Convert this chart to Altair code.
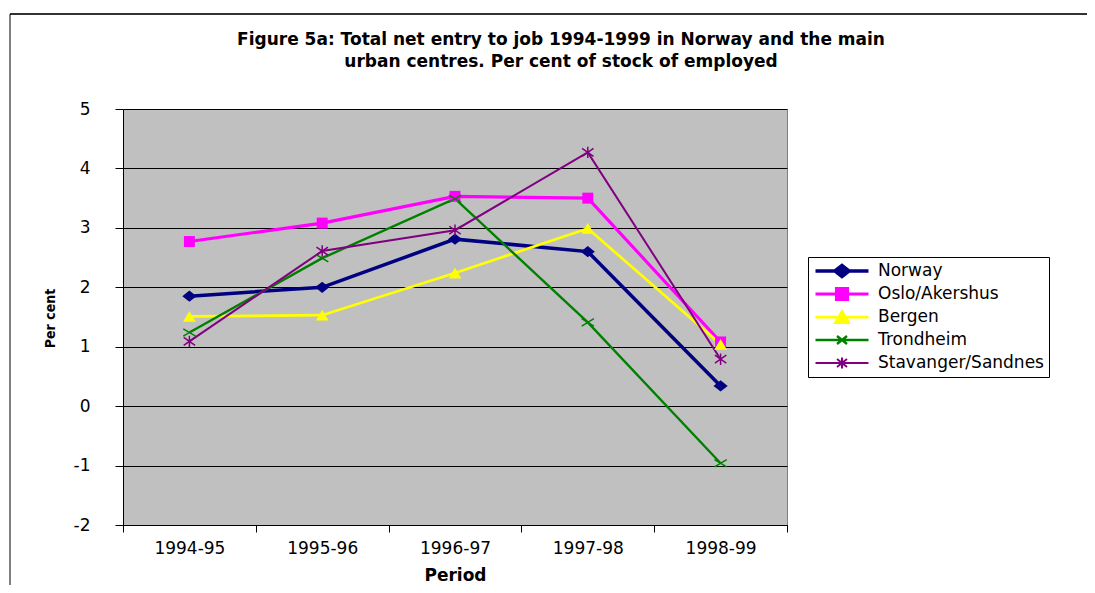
import altair as alt
import pandas as pd

periods = ["1994-95", "1995-96", "1996-97", "1997-98", "1998-99"]
series_names = ["Norway", "Oslo/Akershus", "Bergen", "Trondheim", "Stavanger/Sandnes"]
norway = [1.85, 2.0, 2.81, 2.6, 0.34]
oslo = [2.77, 3.08, 3.53, 3.5, 1.08]
bergen = [1.51, 1.53, 2.24, 2.99, 1.04]
trondheim = [1.24, 2.49, 3.49, 1.41, -0.96]
stavanger = [1.09, 2.61, 2.96, 4.27, 0.79]
y_ticks = [-2, -1, 0, 1, 2, 3, 4, 5]

series_colors = ["#000080", "#FF00FF", "#FFFF00", "#008000", "#800080"]
line_widths = [3.5, 2, 2, 2.5, 2.5]

marker_paths = [
    "M-1,0L0,-0.8L1,0L0,0.8Z",
    "M-1,-1L1,-1L1,1L-1,1Z",
    "M0,-0.85L1,0.85L-1,0.85Z",
    "M-1,-0.6L1,0.6M-1,0.6L1,-0.6",
    "M-1,-0.7L1,0.7M-1,0.7L1,-0.7M0,-1L0,1",
]
marker_sizes = [200, 120, 160, 150, 130]
marker_filled = [True, True, True, False, False]

# legend samples: line segment plus marker (unit = 6 px at symbolSize 144)
legend_paths = [
    "M-1,0L7.833,0M2.25,0L3.417,-0.917L4.583,0L3.417,0.917Z",
    "M-1,0L7.833,0M2.5,-0.917L4.333,-0.917L4.333,0.917L2.5,0.917Z",
    "M-1,0L7.833,0M3.417,-0.917L4.5,0.917L2.333,0.917Z",
    "M-1,0L7.833,0M2.583,-0.667L4.25,0.667M2.583,0.667L4.25,-0.667",
    "M-1,0L7.833,0M2.583,-0.667L4.25,0.667M2.583,0.667L4.25,-0.667M3.417,-0.917L3.417,0.917",
]

rows = []
for name, vals in zip(series_names, [norway, oslo, bergen, trondheim, stavanger]):
    for p, v in zip(periods, vals):
        rows.append({"series": name, "period": p, "value": v})
df = pd.DataFrame(rows)

FONT = "DejaVu Sans"

x_enc = alt.X(
    "period:N",
    sort=periods,
    scale=alt.Scale(type="band", domain=periods, paddingInner=0, paddingOuter=0),
    axis=alt.Axis(
        title="Period", labelAngle=0, tickBand="extent", tickSize=7, tickColor="black",
        domainColor="black", labelPadding=8, labelFont=FONT, labelFontSize=17,
        labelColor="black", titleFont=FONT, titleFontSize=17, titleFontWeight="bold",
        titleColor="black", titlePadding=11, grid=False,
    ),
)
y_enc = alt.Y(
    "value:Q",
    scale=alt.Scale(domain=[-2, 5], nice=False, zero=False),
    axis=alt.Axis(
        title="Per cent", values=y_ticks, labelExpr="'' + datum.value", tickSize=8,
        tickColor="black", domainColor="black", labelPadding=25, labelFont=FONT,
        labelFontSize=17, labelColor="black", grid=True, gridColor="black", gridWidth=1,
        titleFont="DejaVu Sans Condensed", titleFontSize=14, titleFontWeight="bold",
        titleColor="black", titleAngle=270, titleX=-73, titleY=209, titleAlign="center",
        titleBaseline="middle",
    ),
)

color_scale = alt.Scale(domain=series_names, range=series_colors)

leg = alt.Legend(
    title=None, orient="none", legendX=685, legendY=148, labelFont=FONT, labelFontSize=17,
    labelColor="black", labelLimit=320, symbolSize=144, symbolStrokeWidth=2, symbolOpacity=1,
    strokeColor="black", fillColor="white", padding=5, rowPadding=5, labelOffset=48,
    clipHeight=18,
)

frame = alt.Chart(alt.Data(values=[{"a": 1}])).mark_rule(color="#333333", strokeWidth=2).encode(
    x=alt.value(-113), x2=alt.value(975), y=alt.value(-95)
)
frame_left = alt.Chart(alt.Data(values=[{"a": 1}])).mark_rule(color="black", strokeWidth=1).encode(
    x=alt.value(-113), y=alt.value(-95), y2=alt.value(480)
)

lines = alt.Chart(df).mark_line().encode(
    x=x_enc,
    y=y_enc,
    color=alt.Color("series:N", scale=color_scale, legend=leg),
    strokeWidth=alt.StrokeWidth(
        "series:N", scale=alt.Scale(domain=series_names, range=line_widths), legend=None
    ),
)

point_layers = []
for name, col, path, sz, fl in zip(series_names, series_colors, marker_paths, marker_sizes, marker_filled):
    pl = (
        alt.Chart(df)
        .transform_filter(alt.datum.series == name)
        .mark_point(shape=path, size=sz, filled=fl, color=col, opacity=1, strokeWidth=1.5)
        .encode(x=x_enc, y=y_enc)
    )
    point_layers.append(pl)

legend_layer = (
    alt.Chart(df)
    .mark_point(filled=True, fillOpacity=0, strokeOpacity=0, strokeWidth=2)
    .encode(
        x=x_enc,
        y=y_enc,
        fill=alt.Fill("series:N", scale=color_scale, legend=leg),
        stroke=alt.Stroke("series:N", scale=color_scale, legend=leg),
        shape=alt.Shape("series:N", scale=alt.Scale(domain=series_names, range=legend_paths), legend=leg),
    )
)

chart = (
    alt.layer(frame, frame_left, lines, legend_layer, *point_layers)
    .properties(
        width=664, height=416, background="white",
        title=alt.Title(
            text=["Figure 5a: Total net entry to job 1994-1999 in Norway and the main",
                  "urban centres. Per cent of stock of employed"],
            font=FONT, fontSize=17, fontWeight="bold", color="black", anchor="middle",
            dx=106, offset=-58, lineHeight=22,
        ),
        padding={"left": 115, "top": 101, "right": 300, "bottom": 60},
        autosize=alt.AutoSizeParams(type="none"),
    )
    .configure_view(fill="#C0C0C0", stroke="#808080")
)

chart.save("out.html", embed_options={"renderer": "svg", "actions": False})
